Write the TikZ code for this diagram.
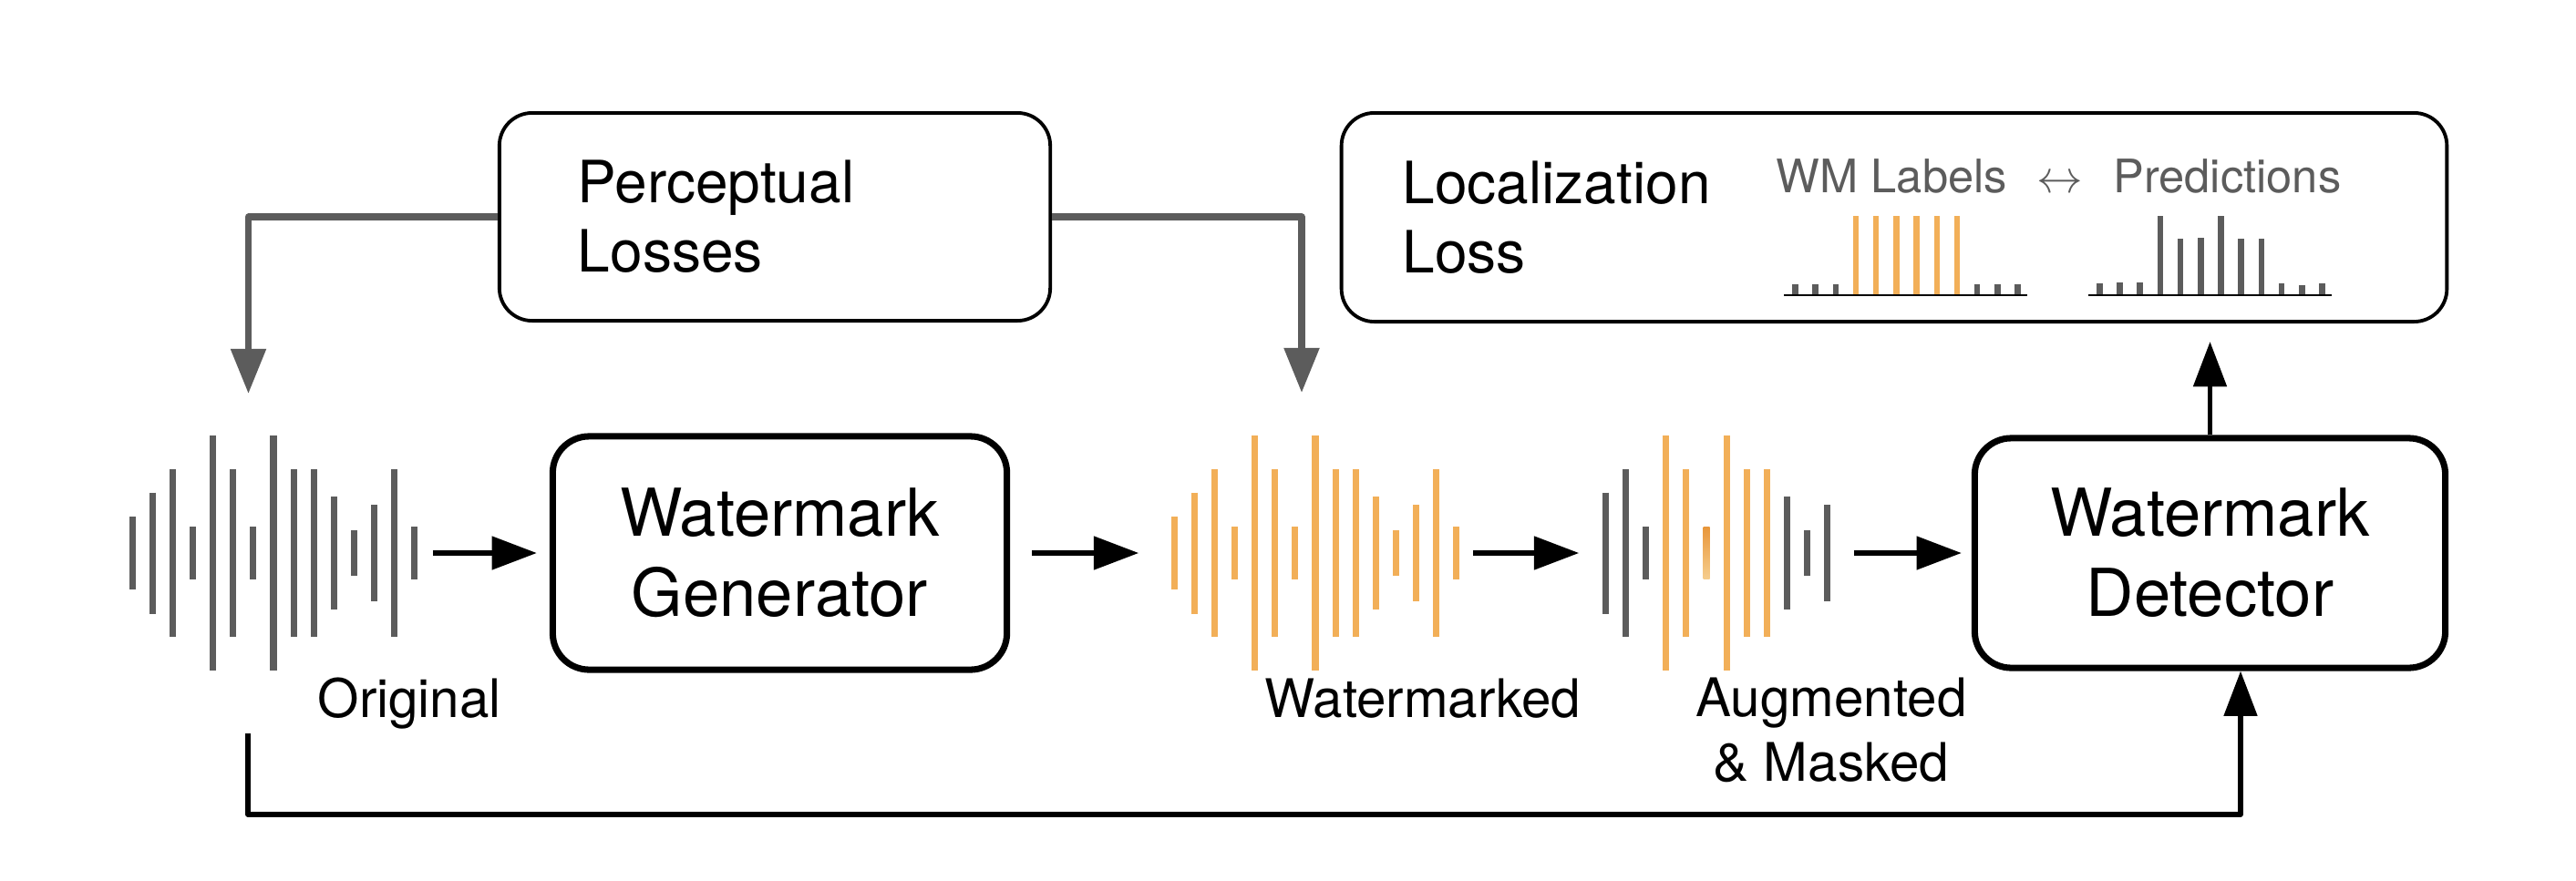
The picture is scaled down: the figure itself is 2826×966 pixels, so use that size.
\documentclass[tikz,border=0pt]{standalone}
\usepackage{fontspec}
\setmainfont{TeX Gyre Heros}
\usetikzlibrary{shapes,arrows.meta,positioning}
\definecolor{wavegray}{RGB}{92,92,92}
\definecolor{wmorange}{RGB}{242,175,88}
\newcommand{\waveheights}{40,66.5,92,28.7,129,92,28.7,129,92,92,62,25,53,92,28.7}

\begin{document}
\begin{tikzpicture}[
    x=0.01cm, y=-0.01cm,
    block/.style={draw, line width=2pt, rounded corners=0.4cm, align=center, font=\fontsize{20.6}{25}\selectfont},
    lossbox/.style={draw, line width=1.1pt, rounded corners=0.36cm, align=left, font=\fontsize{18.2}{21.6}\selectfont},
    wave/.style={minimum width=3.16cm, minimum height=2.58cm, inner sep=0},
    tag/.style={inner sep=0, font=\fontsize{16.6}{20.2}\selectfont},
    bar/.style={line width=2pt},
    tick/.style={line width=1.85pt},
    arrow/.style={-{Triangle[length=14pt,width=10.2pt]}, line width=1.5pt},
    grayarrow/.style={-{Triangle[length=14pt,width=10.7pt]}, line width=2pt, wavegray, line join=round}
]
\useasboundingbox (0,0) rectangle (2826,966);

\node[lossbox, minimum height=2.28cm, text width=4.32cm, inner xsep=0.86cm] (percep) at (850,238) {Perceptual\\Losses};
\node[lossbox, minimum height=2.29cm, text width=10.78cm, inner xsep=0.67cm] (loc) at (2078,238.5) {Localization\\Loss};
\node[block, minimum width=4.98cm, minimum height=2.56cm] (gen) at (855.5,607) {Watermark\\Generator};
\node[block, minimum width=5.16cm, minimum height=2.52cm] (det) at (2424.5,607) {Watermark\\Detector};
\node[wave] (orig) at (300,607) {};
\node[wave] (wm) at (1443,607) {};
\node[wave, minimum width=2.5cm] (aug) at (1883,607) {};

\node[tag, anchor=base west] (origtag) at (348,787) {Original};
\node[tag, anchor=base west] (wmtag) at (1387,787) {Watermarked};
\node[tag, anchor=north, align=center] (augtag) at (2009,743) {Augmented\\\& Masked};
\node[anchor=base west, inner sep=0, text=wavegray, font=\fontsize{14.4}{18}\selectfont] (cmp) at (1948,211)
  {WM Labels\hspace{0.65em}$\leftrightarrow$\hspace{0.65em}Predictions};

% waveforms
\foreach \w/\c in {orig/wavegray, wm/wmorange}
  \foreach \h [count=\i from 0] in \waveheights
    \draw[bar, \c, shift={(\w.center)}] (\i*22.1-154.7,-\h) -- (\i*22.1-154.7,\h);
\begin{scope}[shift={(aug.center)}]
  \foreach \i/\h/\c in {1/66.5/wavegray, 2/92/wavegray, 3/28.7/wavegray, 4/129/wmorange, 5/92/wmorange,
      7/129/wmorange, 8/92/wmorange, 9/92/wmorange, 10/62/wavegray, 11/25/wavegray, 12/53/wavegray}
    \draw[bar, \c] (\i*22.1-143.6,-\h) -- (\i*22.1-143.6,\h);
  \shade[top color={rgb,255:red,232;green,150;blue,58}, bottom color={rgb,255:red,246;green,206;blue,142}]
    (6*22.1-143.6-3.5,-28.7) rectangle (6*22.1-143.6+3.5,28.7);
\end{scope}

% label and prediction bars
\foreach \h/\c [count=\i from 0] in {12.3/wavegray, 12.3/wavegray, 12.3/wavegray, 86.7/wmorange, 86.7/wmorange, 86.7/wmorange,
    86.7/wmorange, 86.7/wmorange, 86.7/wmorange, 12.3/wavegray, 12.3/wavegray, 12.3/wavegray}
  \draw[tick, \c] (1969.4+\i*22.2,324) -- ++(0,-\h);
\foreach \h [count=\i from 0] in {12.7,14,14,86.7,62,63.3,86.7,62,62,12.7,11.3,12.7}
  \draw[tick, wavegray] (2303.3+\i*22.2,324) -- ++(0,-\h);
\draw[line width=0.8pt] (1957,324) -- (2224,324);
\draw[line width=0.8pt] (2291,324) -- (2558,324);

\coordinate (origtip) at (272.5,432);
\coordinate (wmtip) at (1428,431);
\coordinate (tap) at (272,805);
\draw[grayarrow] (percep.west) -| (origtip);
\draw[grayarrow] (percep.east) -| (wmtip);

\draw[arrow, shorten <=0.16cm, shorten >=0.14cm] (orig) -- (gen);
\draw[arrow, shorten <=0.24cm, shorten >=0.35cm] (gen) -- (wm);
\draw[arrow, shorten <=0.14cm, shorten >=0.25cm] (wm) -- (aug);
\draw[arrow, shorten <=0.25cm, shorten >=0.11cm] (aug) -- (det);
\draw[arrow, shorten >=0.2cm] (det) -- (det |- loc.south);
\draw[arrow, line join=round] (tap) -- ++(0,89) -| ([xshift=0.335cm]det.south);
\end{tikzpicture}
\end{document}
